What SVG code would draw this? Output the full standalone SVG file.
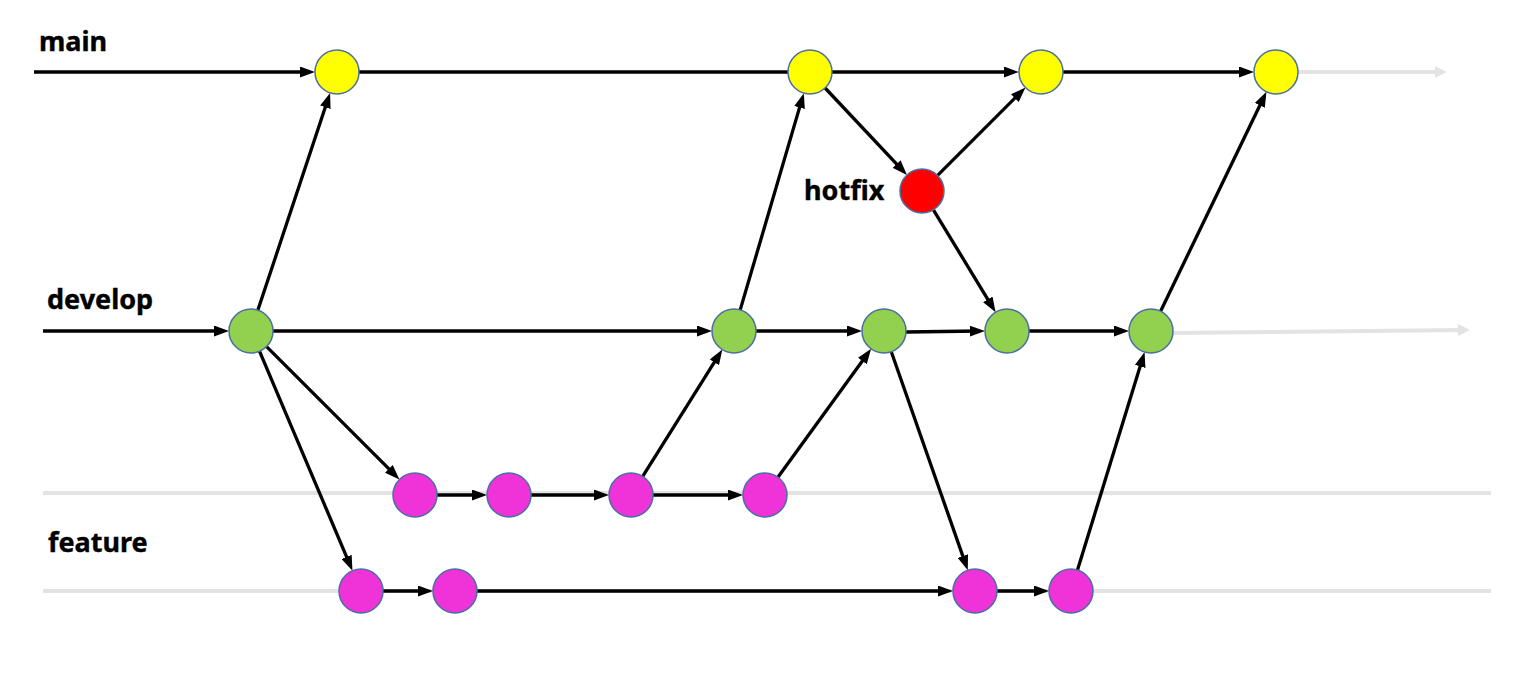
<svg xmlns="http://www.w3.org/2000/svg" width="1536" height="682" viewBox="0 0 1536 682">
<style>
.lbl{font-family:"Noto Sans","Liberation Sans",sans-serif;font-weight:bold;font-size:27px;fill:#000;stroke:#000;stroke-width:0.4}
.e{stroke:#000;stroke-width:3.3;fill:none}
.ea{stroke:#000;stroke-width:3.3;fill:none;marker-end:url(#ah)}
.g{stroke:#e3e3e3;stroke-width:4;fill:none}
.ga{stroke:#e3e3e3;stroke-width:4;fill:none;marker-end:url(#gh)}
.n{stroke:#4a6fa0;stroke-width:1.5}
.y{fill:#ffff00}.gr{fill:#92d050}.m{fill:#f033d8}.r{fill:#ff0000}
</style>
<defs>
<marker id="ah" markerUnits="userSpaceOnUse" markerWidth="15" markerHeight="11" refX="9" refY="5.5" orient="auto"><path d="M0,0 L15,5.5 L0,11 z" fill="#000"/></marker>
<marker id="gh" markerUnits="userSpaceOnUse" markerWidth="12" markerHeight="12" refX="6" refY="6" orient="auto"><path d="M0,0 L12,6 L0,12 z" fill="#e3e3e3"/></marker>
</defs>
<rect width="1536" height="682" fill="#fff"/>
<g id="labels">
<text class="lbl" x="39" y="51">main</text>
<text class="lbl" x="47" y="309">develop</text>
<text class="lbl" x="48" y="552">feature</text>
<text class="lbl" x="804" y="200">hotfix</text>
</g>
<g id="connectors">
<line class="g" x1="43" y1="493" x2="1491" y2="493"/>
<line class="g" x1="43" y1="591" x2="1491" y2="591"/>
<line class="ga" x1="1298" y1="72" x2="1441" y2="72"/>
<line class="ga" x1="1173" y1="333" x2="1464" y2="330"/>
<line class="ea" x1="34" y1="72" x2="309" y2="72"/>
<line class="ea" x1="257.9" y1="310.1" x2="328.2" y2="98.6"/>
<line class="e" x1="359" y1="72" x2="788" y2="72"/>
<line class="ea" x1="832" y1="72" x2="1013" y2="72"/>
<line class="ea" x1="1063" y1="72" x2="1248" y2="72"/>
<line class="ea" x1="825.1" y1="88" x2="902.8" y2="170.6"/>
<line class="ea" x1="937.6" y1="175.4" x2="1021.2" y2="91.8"/>
<line class="ea" x1="933.4" y1="209.8" x2="992.5" y2="307.1"/>
<line class="ea" x1="43" y1="331" x2="223" y2="331"/>
<line class="ea" x1="273" y1="331" x2="706" y2="331"/>
<line class="ea" x1="740.2" y1="309.9" x2="802.1" y2="98.9"/>
<line class="ea" x1="756" y1="331" x2="856" y2="331"/>
<line class="ea" x1="906" y1="332" x2="979" y2="331"/>
<line class="ea" x1="1029" y1="331" x2="1123" y2="331"/>
<line class="ea" x1="1160.6" y1="311.2" x2="1263.8" y2="97.2"/>
<line class="ea" x1="266.6" y1="346.6" x2="395.2" y2="475.2"/>
<line class="ea" x1="259.6" y1="351.3" x2="350.1" y2="565.2"/>
<line class="ea" x1="437" y1="495" x2="481" y2="495"/>
<line class="ea" x1="531" y1="495" x2="603" y2="495"/>
<line class="ea" x1="653" y1="495" x2="737" y2="495"/>
<line class="ea" x1="642.7" y1="476.4" x2="719.1" y2="354.7"/>
<line class="ea" x1="777.9" y1="477.2" x2="867.6" y2="353.7"/>
<line class="ea" x1="891.3" y1="351.8" x2="965.8" y2="564.6"/>
<line class="ea" x1="383" y1="591" x2="427" y2="591"/>
<line class="ea" x1="477" y1="591" x2="947" y2="591"/>
<line class="ea" x1="997" y1="591" x2="1043" y2="591"/>
<line class="ea" x1="1077.5" y1="570" x2="1142.8" y2="357.8"/>
</g>
<g id="M1"><circle class="n y" cx="337" cy="72" r="22"/></g>
<g id="M2"><circle class="n y" cx="810" cy="72" r="22"/></g>
<g id="M3"><circle class="n y" cx="1041" cy="72" r="22"/></g>
<g id="M4"><circle class="n y" cx="1276" cy="72" r="22"/></g>
<g id="H"><circle class="n r" cx="922" cy="191" r="22"/></g>
<g id="D1"><circle class="n gr" cx="251" cy="331" r="22"/></g>
<g id="D2"><circle class="n gr" cx="734" cy="331" r="22"/></g>
<g id="D3"><circle class="n gr" cx="884" cy="331" r="22"/></g>
<g id="D4"><circle class="n gr" cx="1007" cy="331" r="22"/></g>
<g id="D5"><circle class="n gr" cx="1151" cy="331" r="22"/></g>
<g id="F1"><circle class="n m" cx="415" cy="495" r="22"/></g>
<g id="F2"><circle class="n m" cx="509" cy="495" r="22"/></g>
<g id="F3"><circle class="n m" cx="631" cy="495" r="22"/></g>
<g id="F4"><circle class="n m" cx="765" cy="495" r="22"/></g>
<g id="G1"><circle class="n m" cx="361" cy="591" r="22"/></g>
<g id="G2"><circle class="n m" cx="455" cy="591" r="22"/></g>
<g id="G3"><circle class="n m" cx="975" cy="591" r="22"/></g>
<g id="G4"><circle class="n m" cx="1071" cy="591" r="22"/></g>
</svg>
